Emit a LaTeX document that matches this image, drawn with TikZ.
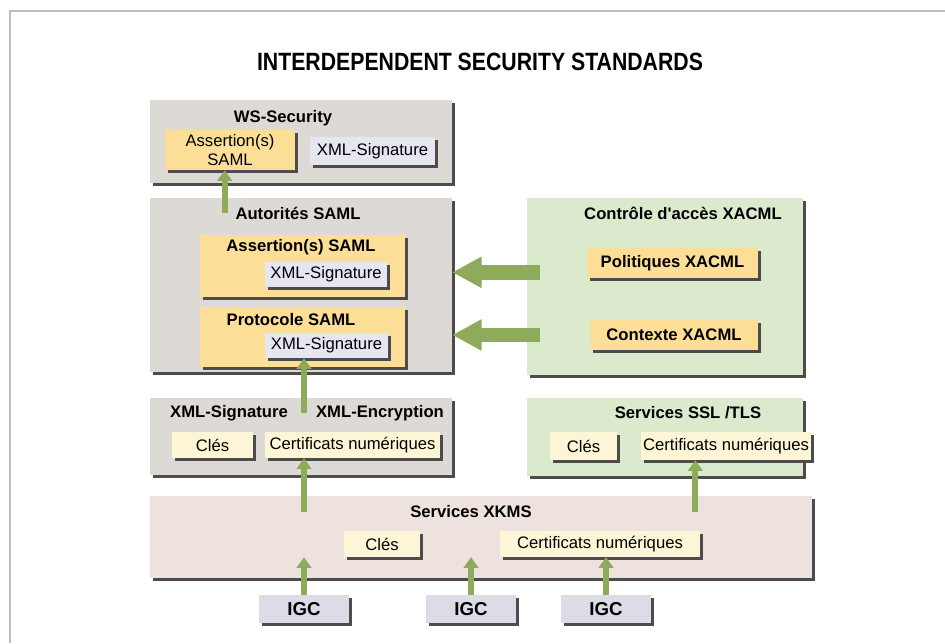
\documentclass[tikz,border=0pt]{standalone}
\usepackage{fontspec}
\setmainfont{Liberation Sans}
\newfontfamily\titlefont{Liberation Sans}[FakeStretch=0.85]
\usepackage{xcolor}
\usepackage{tikz}
\usetikzlibrary{arrows.meta, positioning, shadows}
\definecolor{boxgray}{RGB}{221,218,214}
\definecolor{samlyellow}{RGB}{252,222,150}
\definecolor{sigblue}{RGB}{230,230,240}
\definecolor{keyyellow}{RGB}{252,246,214}
\definecolor{xacmlgreen}{RGB}{219,234,205}
\definecolor{xkmspink}{RGB}{238,226,222}
\definecolor{igcgray}{RGB}{220,220,230}
\definecolor{arrowgreen}{RGB}{141,171,91}
\definecolor{framegray}{RGB}{190,190,190}

\tikzset{
  panel/.style={fill=#1, inner sep=0pt,
    drop shadow={shadow xshift=2.2pt, shadow yshift=-2.2pt, fill=black!70, opacity=1}},
  txt/.style={font=\fontsize{12.5}{14}\selectfont},
  head/.style={font=\bfseries\fontsize{12.5}{14}\selectfont},
  igcbox/.style={panel=igcgray, font=\bfseries\fontsize{14}{16}\selectfont, minimum width=67.5pt, minimum height=21pt},
  uparrow/.style={arrowgreen, line width=4.5pt, -{Triangle[width=11pt,length=8pt]}},
  bigarrow/.style={arrowgreen, line width=11pt, -{Triangle[width=22pt,length=22pt]}}
}

\begin{document}
\begin{tikzpicture}[x=0.75pt, y=-0.75pt]
    \useasboundingbox (0,0) rectangle (945,643);
    \draw[framegray, line width=1.5pt] (10,643) -- (10,11) -- (945,11);

    \node[font=\titlefont\bfseries\fontsize{18.75}{20}\selectfont] (title) at (480,62) {INTERDEPENDENT SECURITY STANDARDS};

    % WS-Security
    \node[panel=boxgray, minimum width=226.5pt, minimum height=62.25pt] (ws) at (301,141.5) {};
    \node[head] (wstitle) at (283,118) {WS-Security};
    \node[panel=samlyellow, txt, align=center, minimum width=97.5pt, minimum height=30pt] (wsassert) at (230,150) {Assertion(s)\\SAML};
    \node[panel=sigblue, txt, minimum width=93.75pt, minimum height=21pt] (wssig) at (372.5,151) {XML-Signature};

    % Autorites SAML
    \node[panel=boxgray, minimum width=226.5pt, minimum height=130.5pt] (autor) at (301,285) {};
    \node[head] (autortitle) at (298,213) {Autorités SAML};
    \node[panel=samlyellow, minimum width=153.75pt, minimum height=46.5pt] (assert) at (302.5,266) {};
    \node[head] (asserttitle) at (301,247) {Assertion(s) SAML};
    \node[panel=sigblue, txt, minimum width=91.5pt, minimum height=18.75pt] (assertsig) at (326,274.5) {XML-Signature};
    \node[panel=samlyellow, minimum width=153.75pt, minimum height=45pt] (proto) at (302.5,337) {};
    \node[head] (prototitle) at (291,320) {Protocole SAML};
    \node[panel=sigblue, txt, minimum width=92.25pt, minimum height=18.75pt] (protosig) at (326.5,345.5) {XML-Signature};

    % Controle d'acces XACML
    \node[panel=xacmlgreen, minimum width=207pt, minimum height=132.75pt] (xacml) at (665,286.5) {};
    \node[head] (xacmltitle) at (683,213) {Contrôle d\textquotesingle accès XACML};
    \node[panel=samlyellow, head, minimum width=128.25pt, minimum height=22.5pt] (polit) at (672.5,263) {Politiques XACML};
    \node[panel=samlyellow, head, minimum width=126pt, minimum height=22.5pt] (context) at (674,335) {Contexte XACML};

    % XML-Signature / XML-Encryption
    \node[panel=boxgray, minimum width=226.5pt, minimum height=57.75pt] (xmlsig) at (301,436.5) {};
    \node[head] (sigtitle) at (229,413) {XML-Signature};
    \node[head] (enctitle) at (380,413) {XML-Encryption};
    \node[panel=keyyellow, txt, minimum width=60.75pt, minimum height=19.5pt] (sigcles) at (212.5,445) {Clés};
    \node[panel=keyyellow, txt, minimum width=131.25pt, minimum height=19.5pt] (sigcert) at (352.5,445) {Certificats numériques};

    % Services SSL/TLS
    \node[panel=xacmlgreen, minimum width=207pt, minimum height=58.5pt] (ssl) at (665,437) {};
    \node[head] (ssltitle) at (688,413) {Services SSL /TLS};
    \node[panel=keyyellow, txt, minimum width=50.25pt, minimum height=21pt] (sslcles) at (583.5,446) {Clés};
    \node[panel=keyyellow, txt, minimum width=128pt, minimum height=21pt] (sslcert) at (726,446) {Certificats numériques};

    % Services XKMS
    \node[panel=xkmspink, minimum width=496pt, minimum height=61.5pt] (xkms) at (481,537) {};
    \node[head] (xkmstitle) at (471,512) {Services XKMS};
    \node[panel=keyyellow, txt, minimum width=57pt, minimum height=19.5pt] (xkmscles) at (382,544) {Clés};
    \node[panel=keyyellow, txt, minimum width=150pt, minimum height=19.5pt] (xkmscert) at (600,544) {Certificats numériques};

    % IGC
    \node[igcbox] (igc1) at (304,609) {IGC};
    \node[igcbox] (igc2) at (471,609) {IGC};
    \node[igcbox] (igc3) at (606,609) {IGC};

    % arrows
    \draw[uparrow] (igc1.north) -- (igc1.north |- xkmscert.south);
    \draw[uparrow] (igc2.north) -- (igc2.north |- xkmscert.south);
    \draw[uparrow] (igc3.north) -- (igc3.north |- xkmscert.south);
    \draw[uparrow] (igc1 |- xkmstitle) -- (igc1 |- sigcert.south);
    \draw[uparrow] ([xshift=-23pt]sslcert.south |- xkmstitle) -- ([xshift=-23pt]sslcert.south);
    \draw[uparrow] (igc1 |- sigtitle) -- (igc1 |- protosig.south);
    \draw[uparrow] ([xshift=-4pt]wsassert.south |- autortitle) -- ([xshift=-4pt]wsassert.south);
    \draw[bigarrow] ([xshift=10pt,yshift=-7pt]xacml.west |- polit) -- ([yshift=-7pt]autor.east |- polit);
    \draw[bigarrow] ([xshift=10pt]xacml.west |- context) -- (autor.east |- context);
\end{tikzpicture}
\end{document}
